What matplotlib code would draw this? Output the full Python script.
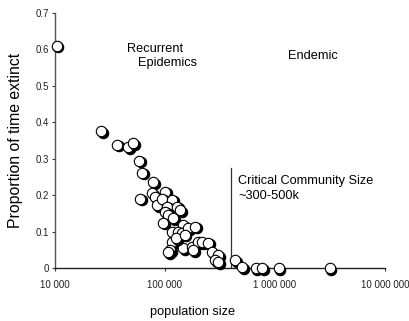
import matplotlib
matplotlib.use("Agg")
import matplotlib.pyplot as plt
import matplotlib.transforms as mtransforms
from matplotlib.ticker import FixedLocator, FixedFormatter, NullLocator

plt.rcParams['font.family'] = ['Liberation Sans', 'DejaVu Sans']

# population size
pop = [10400, 26200, 36600, 46100, 51200, 58000, 61800, 59300, 77800, 76200,
       81100, 84600, 100000, 93900, 115800, 104300, 128500, 100000, 106400, 95900,
       118300, 145800, 115800, 131300, 142800, 161800, 115800, 111000, 106400, 145800,
       175900, 199500, 187400, 179700, 216800, 246000, 267400, 303400, 285000, 303400,
       432900, 501200, 671500, 762000, 1087000, 3162000, 126000, 136900, 151000]
# proportion of time extinct
prop = [0.610, 0.376, 0.338, 0.332, 0.343, 0.294, 0.261, 0.190, 0.236, 0.206,
        0.195, 0.173, 0.209, 0.190, 0.187, 0.168, 0.168, 0.154, 0.146, 0.124,
        0.137, 0.118, 0.099, 0.099, 0.096, 0.110, 0.071, 0.049, 0.044, 0.055,
        0.058, 0.071, 0.113, 0.049, 0.071, 0.069, 0.044, 0.036, 0.022, 0.016,
        0.022, 0.003, 0.0, 0.0, 0.0, 0.0, 0.082, 0.159, 0.091]

xticks = [1e4, 1e5, 1e6, 1e7]
xtick_labels = ['10 000', '100 000', '1 000 000', '10 000 000']
yticks = [0, 0.1, 0.2, 0.3, 0.4, 0.5, 0.6, 0.7]
ytick_labels = ['0', '0.1', '0.2', '0.3', '0.4', '0.5', '0.6', '0.7']
ccs = 400000
ccs_top = 0.275

fig = plt.figure(figsize=(4.09, 3.21), dpi=100)
ax = fig.add_axes([0.1345, 0.165, 0.8065, 0.795])
ax.set_xscale('log')
ax.set_xlim(1e4, 1e7)
ax.set_ylim(0, 0.7)

shadow = mtransforms.offset_copy(ax.transData, fig=fig, x=1.6, y=-1.6, units='dots')
for i, (x, y) in enumerate(zip(pop, prop)):
    ax.scatter([x], [y], s=56, c='black', edgecolors='black', linewidths=0.8,
               transform=shadow, zorder=3 + 2 * i, clip_on=False)
    ax.scatter([x], [y], s=56, c='white', edgecolors='black', linewidths=0.8,
               zorder=4 + 2 * i, clip_on=False)

ax.plot([ccs, ccs], [0, ccs_top], color='#333333', lw=0.9, zorder=2)

for s in ['top', 'right']:
    ax.spines[s].set_visible(False)
ax.spines['left'].set_color('#555555')
ax.spines['bottom'].set_color('#222222')
ax.spines['left'].set_linewidth(1.0)
ax.spines['bottom'].set_linewidth(1.0)

ax.xaxis.set_major_locator(FixedLocator(xticks))
ax.xaxis.set_major_formatter(FixedFormatter(xtick_labels))
ax.xaxis.set_minor_locator(NullLocator())
ax.set_yticks(yticks)
ax.set_yticklabels(ytick_labels)
ax.tick_params(axis='both', labelsize=7, length=2.5, width=0.8, color='#333333',
               labelcolor='#222222')
ax.tick_params(axis='x', pad=6)
ax.tick_params(axis='y', pad=2)

fig.text(0.037, 0.561, 'Proportion of time extinct', rotation=90, fontsize=11.4,
         ha='center', va='center')
fig.text(0.472, 0.028, 'population size', fontsize=9.2, ha='center', va='center')

fig.text(127 / 409, 1 - 49 / 321, 'Recurrent', fontsize=9.2, ha='left', va='center')
fig.text(138 / 409, 1 - 63 / 321, 'Epidemics', fontsize=9.2, ha='left', va='center')
fig.text(288 / 409, 1 - 56 / 321, 'Endemic', fontsize=9.2, ha='left', va='center')
fig.text(238 / 409, 1 - 181 / 321, 'Critical Community Size', fontsize=9.2,
         ha='left', va='center')
fig.text(238 / 409, 1 - 196 / 321, '~300-500k', fontsize=9.2, ha='left', va='center')

fig.savefig('out.png', dpi=100)
